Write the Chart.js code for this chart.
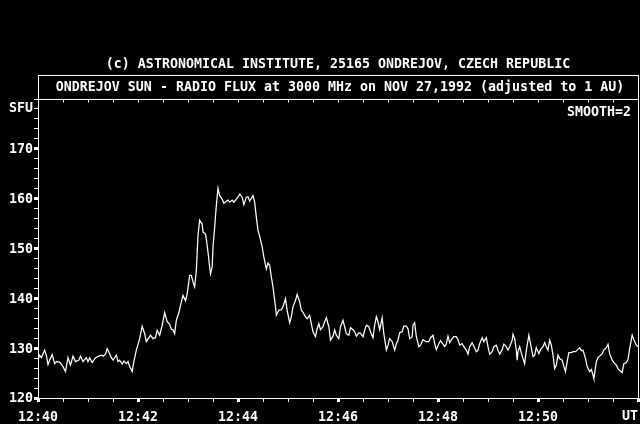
<!DOCTYPE html>
<html>
<head>
<meta charset="utf-8">
<script src="https://cdn.jsdelivr.net/npm/chart.js@4/dist/chart.umd.min.js"></script>
<style>
html,body{margin:0;padding:0;background:#000;overflow:hidden;}
canvas{display:block;}
</style>
</head>
<body>
<canvas id="c" width="640" height="424"></canvas>
<script>
// ---- data (seconds after 12:40 UT, flux in SFU) ----
const times = [0,2,4,8,10,12,14,17,20,22,26,30,33,36,39,42,45,49,51,54,58,60,62,65,69,73,76,78,81,83,86,88,90,94,96,98,101,103,106,108,110,113,115,118,122,125,128,130,133,135,138,141,143,146,149,152,155,158,160,162,164,166,169,171,174,175,177,179,182,184,186,188,190,192,194,197,198,201,202,204,206,207,209,210,212,214,216,218,221,223,226,228,230,233,235,238,240,242,245,247,250,252,254,258,260,262,264,266,269,271,274,276,278,280,282,285,286,289,292,294,297,299,302,304,306,309,311,314,316,318,321,323,326,328,330,333,335,337,339,342,344,346,349,351,354,356,358,361,363,366,368,370,373,375,378,380,382,385,387,390,392,394,397,399,402,404,406,408,410,413,415,418,420,422,425,428,430,432,434,437,439,442,444,446,449,450,452,454,457,459,462,464,466,469,471,474,476,478,481,483,486,488,490,492,494,497,499,502,504,506,509,511,514,516,518,521,523,526,528,530,533,535,538,540,542,545,547,550,552,554,557,559,562,564,566,569,570,572,574,575,576,578,579,582,584,586,589,591,594,596,598,601,603,606,608,610,612,614,616,618,620,622,624,626,629,631,633,635,637,640,642,645,647,650,652,654,657,659,662,664,666,667,670,672,674,677,679,682,684,686,689,691,694,696,698,701,703,706,708,710,713,715,718,720];
const flux = [127.6,128.6,128.1,129.6,128.6,126.7,127.6,128.7,126.9,127.3,127.2,126.3,125.3,128.1,126.6,128.4,127.3,127.6,128.4,127.3,128.1,127.3,128.1,127.1,128.1,128.4,128.6,128.4,128.8,129.9,128.9,128.1,127.6,128.6,127.3,127.6,126.8,127.4,126.9,127.3,126.3,125.3,127.3,129.6,131.9,134.4,132.9,131.3,132.1,132.6,131.9,132.1,133.6,132.6,134.6,137.1,135.3,134.8,133.8,133.7,132.9,135.6,137.1,138.6,140.6,140.6,139.5,140.9,144.6,144.6,143.3,142.3,145.6,152.6,155.7,154.9,153.3,152.9,151.9,149.3,146.3,144.9,146.3,150.3,154.3,158.6,162.1,160.6,159.9,159.1,159.5,159.7,159.3,159.7,159.3,159.9,160.3,160.9,160.3,158.8,160.3,160.4,159.5,160.6,159.3,156.3,153.6,152.5,150.3,148.3,145.9,147.1,146.6,144.3,142.3,138.3,136.6,137.6,137.7,138.3,139.9,137.6,135.1,136.3,138.3,139.6,140.8,139.3,137.6,137.2,136.3,135.9,136.6,134.9,133.3,132.3,133.9,134.9,133.7,134.3,135.3,136.1,134.3,131.6,132.4,133.7,132.6,131.9,134.3,135.6,134.3,132.9,132.6,134.1,133.7,133.3,132.4,133.1,133.0,132.3,133.6,134.6,134.3,133.3,132.1,134.6,136.3,135.3,133.7,136.1,132.9,129.6,130.6,131.9,131.3,129.6,130.9,131.6,133.1,133.3,134.4,134.4,133.9,131.9,132.3,134.6,135.1,132.3,130.3,130.6,131.7,131.5,131.3,131.3,132.1,132.6,130.9,129.7,130.9,131.5,130.8,130.3,130.9,132.4,131.1,131.9,132.3,132.3,131.7,130.6,130.9,130.3,129.6,128.8,130.3,131.1,130.4,129.3,129.6,130.9,132.1,131.3,132.1,130.3,128.8,129.3,130.3,130.6,129.6,128.8,129.7,130.8,130.3,129.6,130.3,131.6,132.8,131.9,129.6,127.6,129.3,130.3,129.6,127.9,126.9,129.6,132.6,130.9,128.3,128.6,130.1,128.9,129.7,130.3,131.1,130.3,129.6,131.6,130.6,128.6,125.9,126.6,128.6,127.9,127.6,126.3,125.3,127.3,129.1,129.1,129.3,129.3,129.6,130.1,129.5,129.6,127.9,126.3,125.3,125.7,124.6,123.9,127.3,128.1,128.4,128.9,129.6,130.1,130.8,128.9,127.6,127.1,126.6,125.9,125.5,125.1,126.9,127.1,127.7,129.9,132.6,131.7,130.6,130.3];
const yTickValues = [120,130,140,150,160,170];
const xTickLabels = ['12:40','12:42','12:44','12:46','12:48','12:50','UT'];
const title1 = '(c) ASTRONOMICAL INSTITUTE, 25165 ONDREJOV, CZECH REPUBLIC';
const title2 = 'ONDREJOV SUN - RADIO FLUX at 3000 MHz on NOV 27,1992 (adjusted to 1 AU)';
const yUnit = 'SFU';
const note = 'SMOOTH=2';

const FAMILY = '"DejaVu Sans Mono", "Liberation Mono", monospace';
const FSIZE = 13.3;
const FONT = 'bold ' + FSIZE + 'px ' + FAMILY;

const points = times.map((t, i) => ({x: t, y: flux[i]}));

const decor = {
  id: 'decor',
  beforeDraw(chart) {
    const c = chart.ctx;
    c.save();
    c.fillStyle = '#000';
    c.fillRect(0, 0, chart.width, chart.height);
    c.restore();
  },
  afterDraw(chart) {
    const ctx = chart.ctx, a = chart.chartArea, x = chart.scales.x;
    ctx.save();
    ctx.strokeStyle = '#fff';
    ctx.fillStyle = '#fff';
    ctx.lineWidth = 1;
    const L = Math.round(a.left) + 0.5, R = Math.round(a.right) + 0.5;
    const T = Math.round(a.top) + 0.5, B = Math.round(a.bottom) + 0.5;
    ctx.strokeRect(L, T, R - L, B - T);
    ctx.strokeRect(L, 75.5, R - L, T - 75.5);
    ctx.beginPath();
    for (let t = 30; t < 720; t += 30) {
      const px = Math.round(x.getPixelForValue(t)) + 0.5;
      ctx.moveTo(px, T);
      ctx.lineTo(px, T + 3);
    }
    ctx.stroke();
    ctx.font = FONT;
    ctx.textBaseline = 'middle';
    ctx.textAlign = 'center';
    const cx = (a.left + a.right) / 2;
    ctx.fillText(title1, cx, 65);
    ctx.fillText(title2, cx + 2, 88);
    ctx.textAlign = 'right';
    ctx.fillText(yUnit, 33, 109);
    ctx.fillText(note, 631, 113);
    ctx.fillText(xTickLabels[xTickLabels.length - 1], a.right, 417);
    ctx.restore();
  }
};

new Chart(document.getElementById('c'), {
  type: 'line',
  data: {
    datasets: [{
      data: points,
      borderColor: '#fff',
      borderWidth: 1.25,
      pointRadius: 0,
      tension: 0,
      fill: false
    }]
  },
  options: {
    responsive: false,
    animation: false,
    events: [],
    layout: {padding: {top: 99, right: 2, left: 0, bottom: 0}},
    plugins: {legend: {display: false}, tooltip: {enabled: false}, title: {display: false}},
    scales: {
      x: {
        type: 'linear',
        min: 0, max: 720,
        afterFit: s => { s.height = 26; s.paddingLeft = 0; s.paddingRight = 0; },
        border: {display: false},
        grid: {
          display: true, drawOnChartArea: false, drawTicks: true,
          tickLength: 4, tickColor: '#fff',
          tickWidth: c => (c.tick && Math.round(c.tick.value) % 120 === 0) ? 3 : 1
        },
        ticks: {
          stepSize: 30, autoSkip: false, maxRotation: 0, minRotation: 0,
          color: '#fff', padding: 8,
          font: {family: FAMILY, size: FSIZE, weight: 'bold'},
          callback: v => {
            const r = Math.round(v);
            if (r % 120 !== 0 || r >= 720) return '';
            return xTickLabels[r / 120];
          }
        }
      },
      y: {
        type: 'linear',
        min: 120, max: 180,
        afterFit: s => { s.width = 38; s.paddingTop = 0; s.paddingBottom = 0; },
        border: {display: false},
        grid: {
          display: true, drawOnChartArea: false, drawTicks: true,
          tickLength: 4, tickColor: '#fff',
          tickWidth: c => (c.tick && yTickValues.includes(Math.round(c.tick.value)) && Math.abs(c.tick.value - Math.round(c.tick.value)) < 1e-6) ? 3 : 1
        },
        ticks: {
          stepSize: 2, autoSkip: false,
          color: '#fff', padding: 1, labelOffset: 1,
          font: {family: FAMILY, size: FSIZE, weight: 'bold'},
          callback: v => {
            const r = Math.round(v);
            return (Math.abs(v - r) < 1e-6 && yTickValues.includes(r)) ? String(r) : '';
          }
        }
      }
    }
  },
  plugins: [decor]
});
</script>
</body>
</html>
